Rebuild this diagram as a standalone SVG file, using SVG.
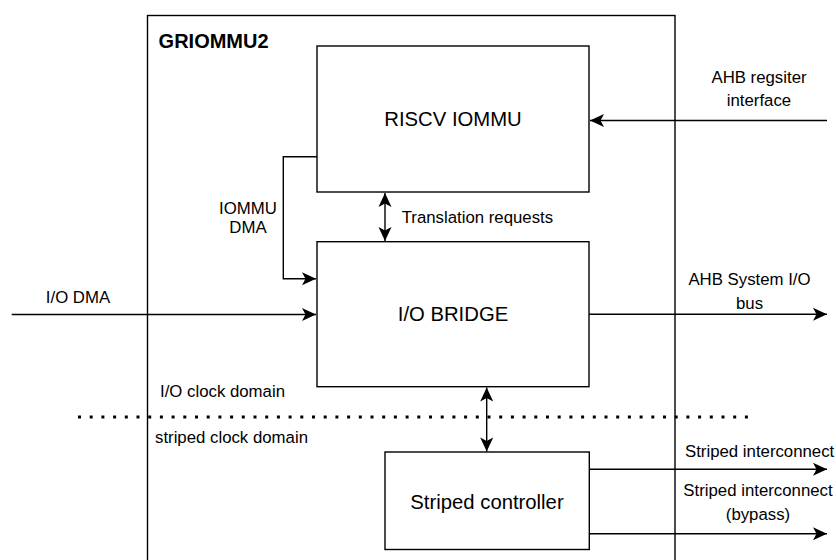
<svg xmlns="http://www.w3.org/2000/svg" width="836" height="560" viewBox="0 0 836 560">
<style>
.box{fill:#ffffff;stroke:#000000;stroke-width:1.4}
.ln{fill:none;stroke:#000000;stroke-width:1.4}
.t{font-family:"Liberation Sans",Arial,sans-serif;font-size:16.8px;fill:#000000}
.big{font-family:"Liberation Sans",Arial,sans-serif;font-size:20.3px;fill:#000000}
.mid{text-anchor:middle}
</style>
<defs>
<marker id="arr" markerUnits="userSpaceOnUse" markerWidth="16" markerHeight="14" refX="14" refY="6.5" orient="auto-start-reverse" overflow="visible">
<path d="M0,0 L14,6.5 L0,13 L3.5,6.5 Z" fill="#000000"/>
</marker>
</defs>
<rect width="836" height="560" fill="#ffffff"/>
<g id="griommu2">
<rect class="box" x="147.5" y="15.5" width="527.5" height="560"/>
<text x="158.6" y="48" font-family="'Liberation Sans',Arial,sans-serif" font-size="20" font-weight="bold">GRIOMMU2</text>
</g>
<g id="riscv-iommu">
<rect class="box" x="317" y="46" width="272" height="146"/>
<text class="big mid" x="453" y="126">RISCV IOMMU</text>
</g>
<g id="io-bridge">
<rect class="box" x="317" y="241.7" width="272" height="145"/>
<text class="big mid" x="453" y="321">I/O BRIDGE</text>
</g>
<g id="striped-controller">
<rect class="box" x="385" y="452" width="204.3" height="97.5"/>
<text class="big mid" x="487" y="508.5">Striped controller</text>
</g>
<g id="domains">
<line x1="78" y1="417" x2="752" y2="417" stroke="#000000" stroke-width="3" stroke-dasharray="3 8.7"/>
<text class="t" x="160" y="397">I/O clock domain</text>
<text class="t" x="155" y="443">striped clock domain</text>
</g>
<g id="connectors">
<polyline class="ln" points="317,156.7 283.3,156.7 283.3,278.7 316,278.7" marker-end="url(#arr)"/>
<line class="ln" x1="385" y1="193" x2="385" y2="241" marker-start="url(#arr)" marker-end="url(#arr)"/>
<line class="ln" x1="11.7" y1="314.5" x2="316" y2="314.5" marker-end="url(#arr)"/>
<line class="ln" x1="589" y1="314.3" x2="827" y2="314.3" marker-end="url(#arr)"/>
<line class="ln" x1="827" y1="120.5" x2="590" y2="120.5" marker-end="url(#arr)"/>
<line class="ln" x1="486.7" y1="387.5" x2="486.7" y2="451.5" marker-start="url(#arr)" marker-end="url(#arr)"/>
<line class="ln" x1="589" y1="469.3" x2="827" y2="469.3" marker-end="url(#arr)"/>
<line class="ln" x1="589" y1="533.7" x2="827" y2="533.7" marker-end="url(#arr)"/>
</g>
<g id="labels">
<text class="t mid" x="248" y="214">IOMMU</text>
<text class="t mid" x="248" y="233">DMA</text>
<text class="t" x="401.7" y="222.5">Translation requests</text>
<text class="t mid" x="78" y="303">I/O DMA</text>
<text class="t mid" x="759" y="82.5">AHB regsiter</text>
<text class="t mid" x="759" y="106">interface</text>
<text class="t mid" x="749.5" y="285">AHB System I/O</text>
<text class="t mid" x="749.5" y="309">bus</text>
<text class="t" x="685" y="457">Striped interconnect</text>
<text class="t mid" x="758" y="496">Striped interconnect</text>
<text class="t mid" x="758" y="520">(bypass)</text>
</g>
</svg>
